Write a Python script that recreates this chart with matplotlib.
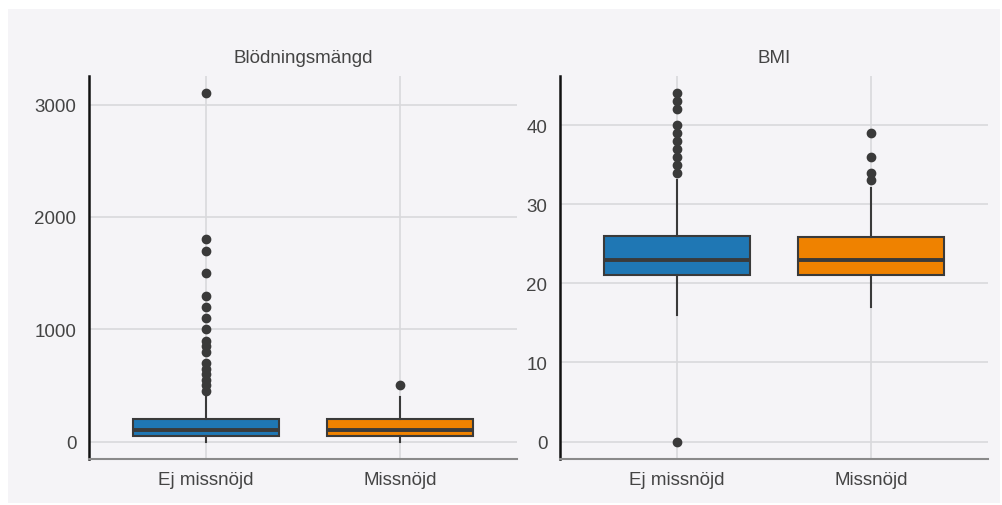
import matplotlib
matplotlib.use("Agg")
import matplotlib.pyplot as plt
from matplotlib.patches import Rectangle

categories = ["Ej missnöjd", "Missnöjd"]
colors = ["#1f77b4", "#ef8200"]

# Blödningsmängd
bl_q1 = [50, 50]
bl_med = [100, 100]
bl_q3 = [200, 200]
bl_whislo = [0, 0]
bl_whishi = [400, 400]
bl_fliers = [
    [3100, 1800, 1700, 1500, 1300, 1200, 1100, 1000, 900, 850, 800,
     700, 650, 600, 550, 500, 450],
    [500],
]
bl_ticks = [0, 1000, 2000, 3000]

# BMI
bmi_q1 = [21, 21]
bmi_med = [23, 23]
bmi_q3 = [26, 25.8]
bmi_whislo = [16, 17]
bmi_whishi = [33, 32]
bmi_fliers = [
    [44, 43, 42, 40, 39, 38, 37, 36, 35, 34, 0],
    [39, 36, 34, 33],
]
bmi_ticks = [0, 10, 20, 30, 40]

BG = "#f5f4f7"
GRID = "#d9d9dc"
EDGE = "#3a3a3a"
TXT = "#444444"

plt.rcParams["font.family"] = ["Liberation Sans", "DejaVu Sans"]

W, H = 1003, 506
fig = plt.figure(figsize=(W / 100, H / 100), dpi=100, facecolor="white")
fig.patches.append(Rectangle((8 / W, 1 - 504 / H), (1000 - 8) / W, (504 - 10) / H,
                             transform=fig.transFigure, facecolor=BG,
                             edgecolor="none", zorder=-10))


def make_panel(rect, title, q1, med, q3, lo, hi, fliers, ticks, ylim):
    ax = fig.add_axes(rect)
    ax.set_facecolor(BG)
    stats = []
    for i, lab in enumerate(categories):
        stats.append(dict(label=lab, q1=q1[i], med=med[i], q3=q3[i],
                          whislo=lo[i], whishi=hi[i], fliers=fliers[i]))
    bp = ax.bxp(stats, positions=[0, 1], widths=0.75, patch_artist=True,
                boxprops=dict(edgecolor=EDGE, linewidth=1.5),
                medianprops=dict(color=EDGE, linewidth=2.8),
                whiskerprops=dict(color=EDGE, linewidth=1.5),
                capprops=dict(linewidth=0),
                flierprops=dict(marker="o", markerfacecolor=EDGE,
                                markeredgecolor=EDGE, markersize=6),
                zorder=3)
    for patch, c in zip(bp["boxes"], colors):
        patch.set_facecolor(c)
    for cap in bp["caps"]:
        cap.set_visible(False)
    ax.set_xlim(-0.6, 1.6)
    ax.set_ylim(*ylim)
    ax.set_yticks(ticks)
    ax.set_xticks([0, 1])
    ax.set_xticklabels(categories)
    ax.grid(True, color=GRID, linewidth=1.2, zorder=0)
    ax.set_axisbelow(True)
    for s in ["top", "right"]:
        ax.spines[s].set_visible(False)
    ax.spines["left"].set_color("#111111")
    ax.spines["left"].set_linewidth(1.8)
    ax.spines["bottom"].set_color("#8a8a8a")
    ax.spines["bottom"].set_linewidth(1.5)
    ax.tick_params(axis="y", length=0, labelsize=13.5, colors=TXT, pad=9)
    ax.tick_params(axis="x", length=0, labelsize=13.5, colors=TXT, pad=9)
    ax.set_title(title, fontsize=13.5, color=TXT, pad=10)
    return ax


ax1 = make_panel([89 / W, 1 - 460 / H, 428 / W, 383 / H], "Blödningsmängd",
                 bl_q1, bl_med, bl_q3, bl_whislo, bl_whishi, bl_fliers,
                 bl_ticks, (-155, 3255))
ax2 = make_panel([560 / W, 1 - 460 / H, 428 / W, 383 / H], "BMI",
                 bmi_q1, bmi_med, bmi_q3, bmi_whislo, bmi_whishi, bmi_fliers,
                 bmi_ticks, (-2.2, 46.2))

fig.savefig("out.png", dpi=100, facecolor=fig.get_facecolor())
